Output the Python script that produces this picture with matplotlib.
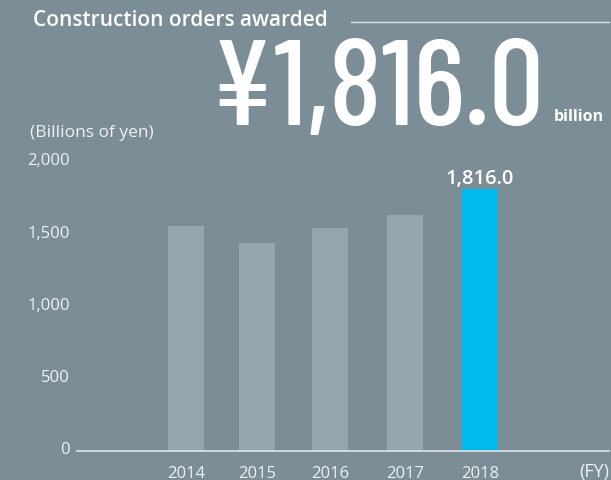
import matplotlib.pyplot as plt
from matplotlib.transforms import ScaledTranslation
from matplotlib.textpath import TextPath
from matplotlib.font_manager import FontProperties

years = ["2014", "2015", "2016", "2017", "2018"]
orders = [1560.0, 1440.0, 1545.0, 1635.0, 1816.0]
yticks = [0, 500, 1000, 1500, 2000]
ytick_labels = ["0", "500", "1,000", "1,500", "2,000"]
headline = "\u00a51,816.0"

bg = "#7b8d97"
bar_grey = "#95a6ae"
bar_blue = "#00b9ef"
txt = "#eef1f3"

plt.rcParams["font.family"] = ["Open Sans", "DejaVu Sans"]

# headline font size so the digits are ~85 px tall
big_font = "Barlow Condensed"
fp = FontProperties(family=big_font, weight="medium")
big_size = 85 / TextPath((0, 0), "1", size=1, prop=fp).get_extents().height * 72 / 100

fig = plt.figure(figsize=(6.11, 4.81), dpi=100, facecolor=bg)
ax = fig.add_axes([0.126, 0.0603, 0.871, 0.600])
ax.set_facecolor(bg)

pos = [0, 0.97, 1.96, 2.98, 4.0]
colors = [bar_grey] * 4 + [bar_blue]
ax.bar(pos, orders, width=0.49, color=colors)
ax.set_xlim(-1.48, 5.76)
ax.set_ylim(0, 2000)

for s in ["top", "right", "left"]:
    ax.spines[s].set_visible(False)
ax.spines["bottom"].set_color("#dfe5e8")
ax.spines["bottom"].set_linewidth(1.2)

ax.set_yticks(yticks)
ax.set_yticklabels(ytick_labels)
ax.set_xticks(pos)
ax.set_xticklabels(years)
ax.tick_params(axis="both", length=0, colors=txt, labelsize=12)
ax.tick_params(axis="x", pad=10)
ax.tick_params(axis="y", pad=5)
up = ScaledTranslation(0, 4 / 100, fig.dpi_scale_trans)
for lab in ax.get_yticklabels():
    lab.set_transform(lab.get_transform() + up)

ax.text(pos[-1], orders[-1] + 8, "1,816.0", ha="center", va="bottom",
        color="white", fontsize=14.5, fontweight="semibold")

fig.text(0.997, 0.019, "(FY)", ha="right", va="center", color=txt, fontsize=13)
fig.text(0.049, 0.724, "(Billions of yen)", ha="left", va="center", color=txt, fontsize=12.5)

fig.text(0.054, 0.958, "Construction orders awarded", ha="left", va="center",
         color="white", fontsize=15, fontweight="semibold")
fig.add_artist(plt.Line2D([0.575, 0.997], [0.953, 0.953], color="#dfe5e8", lw=1,
                          transform=fig.transFigure))

fig.text(0.345, 0.74, headline, ha="left", va="baseline", color="white",
         fontsize=big_size, fontweight="medium", family=[big_font, "DejaVu Sans"])
fig.text(0.906, 0.749, "billion", ha="left", va="baseline", color="white",
         fontsize=11.5, fontweight="bold")

fig.savefig("out.png", dpi=100, facecolor=bg)
